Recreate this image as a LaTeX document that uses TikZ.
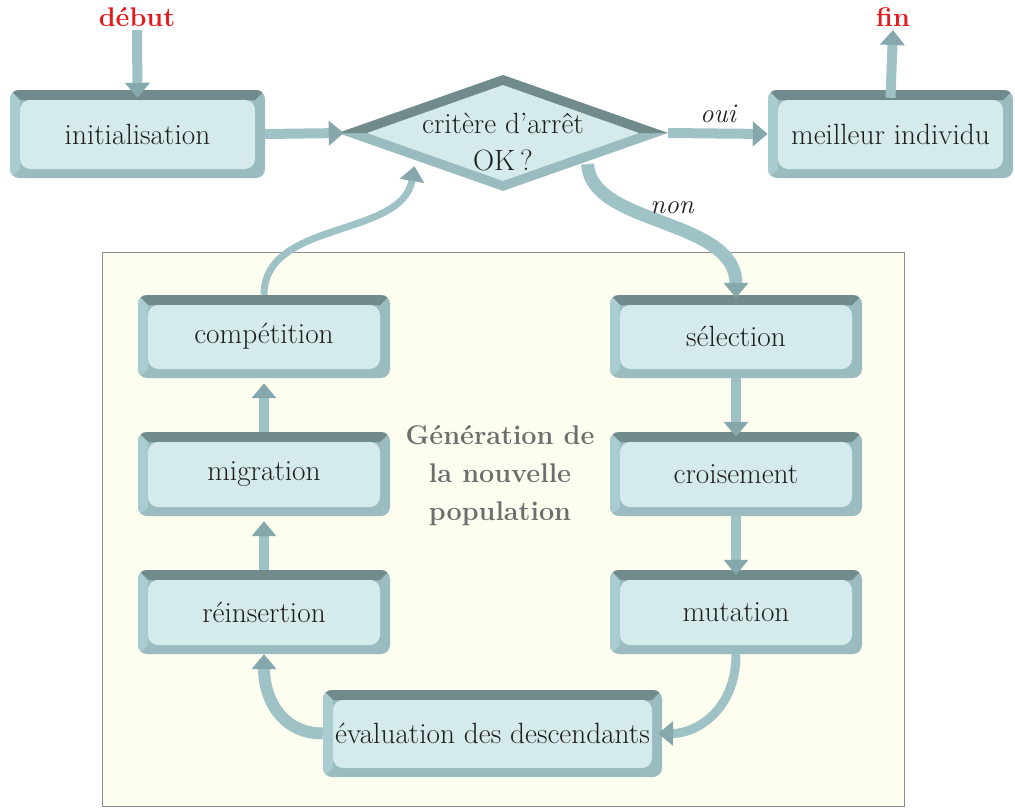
\documentclass[tikz,border=0pt]{standalone}
\usepackage{fontspec}
\usetikzlibrary{shapes.geometric,arrows.meta}
\definecolor{face}{HTML}{D5EAEB}
\definecolor{bevtop}{HTML}{718A8C}
\definecolor{bevleft}{HTML}{A8CCD0}
\definecolor{bevbot}{HTML}{9ABBBF}
\definecolor{arrowc}{HTML}{9FC2C6}
\definecolor{arrowtip}{HTML}{86A8AC}
\definecolor{ivory}{HTML}{FEFEF0}
\definecolor{bgline}{HTML}{8C8C8C}
\definecolor{txt}{HTML}{1E1E1E}
\definecolor{midgray}{HTML}{6E6E6E}
\definecolor{redt}{HTML}{E41A1C}
\begin{document}
\begin{tikzpicture}[x=1pt,y=-1pt,
  every node/.style={font=\fontsize{29.3}{37}\selectfont, text=txt},
  bevbox/.style={rectangle, rounded corners=9pt, fill=bevbot, inner sep=0pt,
    path picture={
      \fill[bevtop, sharp corners] (path picture bounding box.north west) -- (path picture bounding box.north east)
        -- ([xshift=-10pt,yshift=-10pt]path picture bounding box.north east)
        -- ([xshift=10pt,yshift=-10pt]path picture bounding box.north west) -- cycle;
      \fill[bevleft, sharp corners] (path picture bounding box.north west)
        -- ([xshift=10pt,yshift=-10pt]path picture bounding box.north west)
        -- ([xshift=10pt,yshift=9pt]path picture bounding box.south west)
        -- (path picture bounding box.south west) -- cycle;
      \fill[face, rounded corners=10pt] ([xshift=10pt,yshift=-10pt]path picture bounding box.north west)
        rectangle ([xshift=-10pt,yshift=9pt]path picture bounding box.south east);
    }},
  diabox/.style={diamond, fill=bevbot, inner sep=0pt,
    path picture={
      \fill[bevtop] (path picture bounding box.west) -- (path picture bounding box.north)
        -- (path picture bounding box.east) -- cycle;
      \fill[face] ([xshift=29pt]path picture bounding box.west) -- ([yshift=-10pt]path picture bounding box.north)
        -- ([xshift=-29pt]path picture bounding box.east) -- ([yshift=10pt]path picture bounding box.south) -- cycle;
    }},
  arr/.style={draw=arrowc, line width=10pt,
    -{Triangle[length=15pt, width=24pt, color=arrowtip, fill=arrowtip]}},
  tag/.style={font=\fontsize{27}{37}\selectfont\itshape},
]
\useasboundingbox (0,0) rectangle (1015,809);
% background panel
\draw[draw=bgline, fill=ivory, line width=0.8pt] (102,252) rectangle (904,806);

% nodes
\node[bevbox, minimum width=255pt, minimum height=88pt] (init) at (137.5,134) {initialisation};
\node[bevbox, minimum width=245pt, minimum height=88pt] (best) at (890.5,134) {meilleur individu};
\node[diabox, minimum width=330pt, minimum height=116pt,
  label={[align=center, yshift=-9pt, font=\fontsize{29.3}{37}\selectfont]center:crit\`ere d'arr\^et\\OK\,?}] (dia) at (503,133) {};
\node[bevbox, minimum width=252pt, minimum height=83pt] (sel) at (736,336.5) {sélection};
\node[bevbox, minimum width=252pt, minimum height=84pt] (crois) at (736,474) {croisement};
\node[bevbox, minimum width=252pt, minimum height=84pt] (mut) at (736,612) {mutation};
\node[bevbox, minimum width=252pt, minimum height=83pt] (comp) at (264,336.5) {compétition};
\node[bevbox, minimum width=252pt, minimum height=84pt] (migr) at (264,474) {migration};
\node[bevbox, minimum width=252pt, minimum height=84pt] (reins) at (264,612) {réinsertion};
\node[bevbox, minimum width=339pt, minimum height=87pt] (eval) at (492.5,733.5) {évaluation des descendants};

\node[font=\fontsize{27}{37}\selectfont\bfseries, text=redt] (debut) at (137,17) {début};
\node[font=\fontsize{27}{37}\selectfont\bfseries, text=redt] (fin) at (893,17) {fin};
\node[align=center, font=\fontsize{27}{38}\selectfont\bfseries, text=midgray] (gen) at (500,476)
  {Génération de\\la nouvelle\\population};

% connectors
\draw[arr] (debut.south) -- ([yshift=-8pt]init.north);
\draw[arr] (init.east) -- ([xshift=6pt]dia.west);
\draw[arr] (dia.east) -- (best.west) node[tag, pos=0.5, above=2pt] (oui) {oui};
\draw[arr] ([yshift=-8pt]best.north) -- (fin.south);
\draw[arr, line width=13pt] ([xshift=2pt,yshift=-2pt]dia.south east) .. controls +(3,62) and +(0,-80) .. ([yshift=-3pt]sel.north);
\node[tag] (non) at (672,208) {non};
\draw[arr, line width=7pt] (comp.north) .. controls +(0,-75) and +(-12,72) .. ([xshift=-6pt,yshift=-4pt]dia.south west);
\draw[arr] (sel.south) -- ([yshift=-5pt]crois.north);
\draw[arr] (crois.south) -- ([yshift=-5pt]mut.north);
\draw[arr, line width=9pt] (mut.south) .. controls +(0,56) and +(38,0) .. ([xshift=-4pt]eval.east);
\draw[arr, line width=12pt] (eval.west) .. controls +(-40,0) and +(0,46) .. (reins.south);
\draw[arr] (reins.north) -- ([yshift=-5pt]migr.south);
\draw[arr] (migr.north) -- ([yshift=-5pt]comp.south);
\end{tikzpicture}
\end{document}
